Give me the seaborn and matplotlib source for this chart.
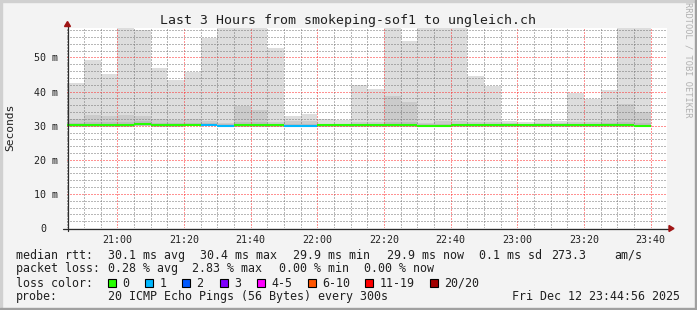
import matplotlib
matplotlib.use("Agg")
import matplotlib.pyplot as plt
import numpy as np
import pandas as pd
import seaborn as sns
from matplotlib.lines import Line2D
from matplotlib.patches import Rectangle, Polygon
from matplotlib.ticker import FixedLocator, MultipleLocator
import matplotlib.transforms as mtransforms

# ---------------- data ----------------
bar_starts = ["20:45", "20:50", "20:55", "21:00", "21:05", "21:10", "21:15",
              "21:20", "21:25", "21:30", "21:35", "21:40", "21:45", "21:50",
              "21:55", "22:00", "22:05", "22:10", "22:15", "22:20", "22:25",
              "22:30", "22:35", "22:40", "22:45", "22:50", "22:55", "23:00",
              "23:05", "23:10", "23:15", "23:20", "23:25", "23:30", "23:35"]
# smoke: max ping (ms)
rtt_max = [42.6, 49.2, 45.1, 60.0, 58.2, 46.8, 43.3, 45.7, 55.6, 60.0,
           60.0, 60.0, 52.9, 32.9, 33.5, 32.1, 31.7, 41.9, 40.7, 60.0,
           54.7, 60.0, 60.0, 60.0, 44.7, 41.6, 31.5, 31.0, 32.0, 31.3,
           39.5, 37.7, 40.6, 60.0, 60.0]
# smoke: upper quantile band (ms)
rtt_upper = [32.0, 33.2, 32.9, 33.2, 32.9, 32.1, 31.8, 32.0, 31.4, 30.8,
             35.7, 34.7, 31.0, 31.3, 31.3, 30.6, 30.6, 31.0, 31.0, 38.6,
             36.9, 30.7, 31.3, 31.3, 31.0, 31.0, 30.8, 30.6, 30.8, 30.7,
             31.0, 31.0, 31.6, 36.3, 34.1]
# smoke: inner band near the median (ms)
rtt_inner = [30.9, 31.1, 31.1, 31.1, 31.4, 30.9, 30.8, 30.9, 30.8, 30.5,
             31.0, 31.0, 30.6, 30.6, 30.6, 30.4, 30.4, 30.6, 30.6, 31.2,
             31.1, 30.5, 30.6, 30.6, 30.6, 30.6, 30.5, 30.4, 30.5, 30.4,
             30.6, 30.6, 30.8, 31.2, 30.9]
# smoke: min ping (ms)
rtt_min = [29.7, 29.7, 29.7, 29.7, 29.8, 29.7, 29.7, 29.8, 29.8, 29.6,
           29.7, 29.7, 29.7, 29.6, 29.6, 29.5, 29.6, 29.7, 29.7, 29.7,
           29.7, 29.5, 29.6, 29.7, 29.7, 29.7, 29.7, 29.7, 29.7, 29.7,
           29.7, 29.7, 29.7, 29.7, 29.6]
rtt_median = [30.1, 30.1, 30.1, 30.1, 30.4, 30.2, 30.1, 30.3, 30.3, 30.0,
              30.1, 30.1, 30.1, 30.0, 30.0, 30.1, 30.1, 30.1, 30.1, 30.1,
              30.1, 29.9, 30.0, 30.1, 30.1, 30.1, 30.1, 30.1, 30.1, 30.1,
              30.1, 30.1, 30.1, 30.1, 29.9]
loss_class = ["0", "0", "0", "0", "0", "0", "0", "0", "1", "1",
              "0", "0", "0", "1", "1", "0", "0", "0", "0", "0",
              "0", "0", "0", "0", "0", "0", "0", "0", "0", "0",
              "0", "0", "0", "0", "0"]

x_tick_labels = ["21:00", "21:20", "21:40", "22:00", "22:20", "22:40",
                 "23:00", "23:20", "23:40"]
y_tick_values = [0, 10, 20, 30, 40, 50]
y_tick_labels = ["0", "10 m", "20 m", "30 m", "40 m", "50 m"]
window_start = "20:44:56"
window_end = "23:44:56"
y_top = 58.65

loss_levels = ["0", "1", "2", "3", "4-5", "6-10", "11-19", "20/20"]
loss_colors = ["#26ff00", "#00b8ff", "#0059ff", "#7e00ff", "#ff00ff",
               "#ff5500", "#ff0000", "#a10000"]

title = "Last 3 Hours from smokeping-sof1 to ungleich.ch"
rtt_row = [("median rtt:", 16), ("30.1 ms avg", 107.6), ("30.4 ms max", 200),
           ("29.9 ms min", 293.3), ("29.9 ms now", 386.7), ("0.1 ms sd", 479),
           ("273.3", 551), ("am/s", 614)]
loss_row = [("packet loss:", 16), ("0.28 % avg", 107.6), ("2.83 % max", 192),
            ("0.00 % min", 279), ("0.00 % now", 364.4)]
probe_text = "20 ICMP Echo Pings (56 Bytes) every 300s"
date_text = "Fri Dec 12 23:44:56 2025"


def to_min(s):
    parts = [int(p) for p in s.split(":")]
    h, m = parts[0], parts[1]
    sec = parts[2] if len(parts) > 2 else 0
    return (h - 20) * 60 + m + sec / 60.0


# ---------------- figure ----------------
sns.set_theme(style="white")
plt.rcParams["font.family"] = ["DejaVu Sans Mono", "DejaVu Sans"]
plt.rcParams["axes.unicode_minus"] = False

W, H = 697, 310
fig = plt.figure(figsize=(W / 100, H / 100), dpi=100, facecolor="#f3f3f3")


def fx(x):
    return x / W


def fy(y):
    return 1 - y / H


ax = fig.add_axes([fx(67), fy(228), 600 / W, 200 / H])
ax.set_facecolor("white")

t0 = np.array([to_min(s) for s in bar_starts])
step = 5.0

# smoke layers
ax.bar(t0, np.array(rtt_max) - np.array(rtt_min), bottom=rtt_min, width=step,
       align="edge", color="#dddddd", linewidth=0, zorder=1)
ax.bar(t0, np.array(rtt_upper) - np.array(rtt_min), bottom=rtt_min, width=step,
       align="edge", color="#cbcbcb", linewidth=0, zorder=1.1)
ax.bar(t0, np.array(rtt_inner) - np.array(rtt_min), bottom=rtt_min, width=step,
       align="edge", color="#bdbdbd", linewidth=0, zorder=1.2)

# median line coloured by loss
rows = []
for i, (s, med, lc) in enumerate(zip(t0, rtt_median, loss_class)):
    rows.append({"t": s, "rtt": med, "bar": i, "loss": lc})
    rows.append({"t": s + step, "rtt": med, "bar": i, "loss": lc})
df = pd.DataFrame(rows)
sns.lineplot(data=df, x="t", y="rtt", units="bar", hue="loss",
             palette=dict(zip(loss_levels, loss_colors)), estimator=None,
             sort=False, legend=False, linewidth=1.5, ax=ax, zorder=4,
             solid_capstyle="butt")

ax.set_xlim(to_min(window_start), to_min(window_end))
ax.set_ylim(0, y_top)

# ticks
ax.xaxis.set_major_locator(FixedLocator([to_min(s) for s in x_tick_labels]))
ax.set_xticklabels(x_tick_labels)
ax.xaxis.set_minor_locator(MultipleLocator(5))
ax.yaxis.set_major_locator(FixedLocator(y_tick_values))
ax.set_yticklabels(y_tick_labels)
ax.yaxis.set_minor_locator(MultipleLocator(2))
ax.set_xlabel("")
ax.set_ylabel("")

ax.tick_params(axis="both", which="major", direction="out", length=3,
               width=0.8, color=(1, 0.6, 0.6), labelsize=7.2,
               labelcolor="#202020")
ax.tick_params(axis="both", which="minor", direction="out", length=2,
               width=0.8, color=(0.8, 0.8, 0.8))
ax.tick_params(axis="x", which="major", pad=2.0)
ax.tick_params(axis="y", which="major", pad=3.4)

ax.set_axisbelow(False)
ax.grid(which="minor", color=(0.45, 0.45, 0.45, 0.35), linestyle=(0, (1, 2)),
        linewidth=0.72)
ax.grid(which="major", color=(1, 0.15, 0.15, 0.22), linestyle=(0, (1, 2)),
        linewidth=0.72)
for sp in ax.spines.values():
    sp.set_visible(False)

# shift the "0" label left (rrdtool pads it)
lab0 = ax.get_yticklabels()[0]
lab0.set_transform(lab0.get_transform() +
                   mtransforms.ScaledTranslation(-11.6 / 100, 0, fig.dpi_scale_trans))

# axis lines and arrows
axcol = "#2b2b2b"
fig.add_artist(Line2D([fx(63), fx(670)], [fy(228.5), fy(228.5)], color=axcol,
                      linewidth=0.9, transform=fig.transFigure, zorder=5))
fig.add_artist(Line2D([fx(67.5), fx(67.5)], [fy(231), fy(25)], color=axcol,
                      linewidth=0.9, transform=fig.transFigure, zorder=5))
fig.add_artist(Polygon([(fx(669), fy(225.5)), (fx(669), fy(231.5)),
                        (fx(674), fy(228.5))], closed=True, color="#a01515",
                       transform=fig.transFigure, zorder=6))
fig.add_artist(Polygon([(fx(64.5), fy(26.5)), (fx(70.5), fy(26.5)),
                        (fx(67.5), fy(21.5))], closed=True, color="#a01515",
                       transform=fig.transFigure, zorder=6))

# frame
fig.add_artist(Rectangle((0, fy(1.5)), 1, 1.5 / H, color="#d0d0d0",
                         transform=fig.transFigure, zorder=0))
fig.add_artist(Rectangle((0, 0), 1.5 / W, 1, color="#d0d0d0",
                         transform=fig.transFigure, zorder=0))
fig.add_artist(Rectangle((1 - 2 / W, 0), 2 / W, 1, color="#a0a0a0",
                         transform=fig.transFigure, zorder=0))
fig.add_artist(Rectangle((0, 0), 1, 2 / H, color="#a0a0a0",
                         transform=fig.transFigure, zorder=0))

# texts
txtc = "#202020"
fig.text(fx(348.5), fy(24.3), title, ha="center", va="baseline",
         fontsize=9.5, color=txtc)
fig.text(fx(10), fy(127), "Seconds", rotation=90, ha="center", va="center",
         fontsize=8.1, color=txtc)
fig.text(fx(688), fy(60), "RRDTOOL / TOBI OETIKER", rotation=270,
         ha="center", va="center", fontsize=6.2, color="#b0b0b0")

lfs = 8.4
for s, x in rtt_row:
    fig.text(fx(x), fy(259), s, ha="left", va="baseline", fontsize=lfs, color=txtc)
for s, x in loss_row:
    fig.text(fx(x), fy(272.3), s, ha="left", va="baseline", fontsize=lfs, color=txtc)
fig.text(fx(16), fy(286.6), "loss color:", ha="left", va="baseline",
         fontsize=lfs, color=txtc)
box_x = [108.4, 145.3, 182.2, 219.6, 256.9, 307.6, 365.3, 430.2]
for lvl, col, bx in zip(loss_levels, loss_colors, box_x):
    fig.add_artist(Rectangle((fx(bx), fy(286.7)), 8 / W, 8 / H, facecolor=col,
                             edgecolor="black", linewidth=0.8,
                             transform=fig.transFigure))
    fig.text(fx(bx + 14.2), fy(286.6), lvl, ha="left", va="baseline",
             fontsize=lfs, color=txtc)
fig.text(fx(16), fy(300.3), "probe:", ha="left", va="baseline", fontsize=lfs, color=txtc)
fig.text(fx(107.6), fy(300.3), probe_text, ha="left", va="baseline",
         fontsize=lfs, color=txtc)
fig.text(fx(680.5), fy(300.3), date_text, ha="right", va="baseline",
         fontsize=lfs, color=txtc)

fig.savefig("out.png", dpi=100, facecolor=fig.get_facecolor())
